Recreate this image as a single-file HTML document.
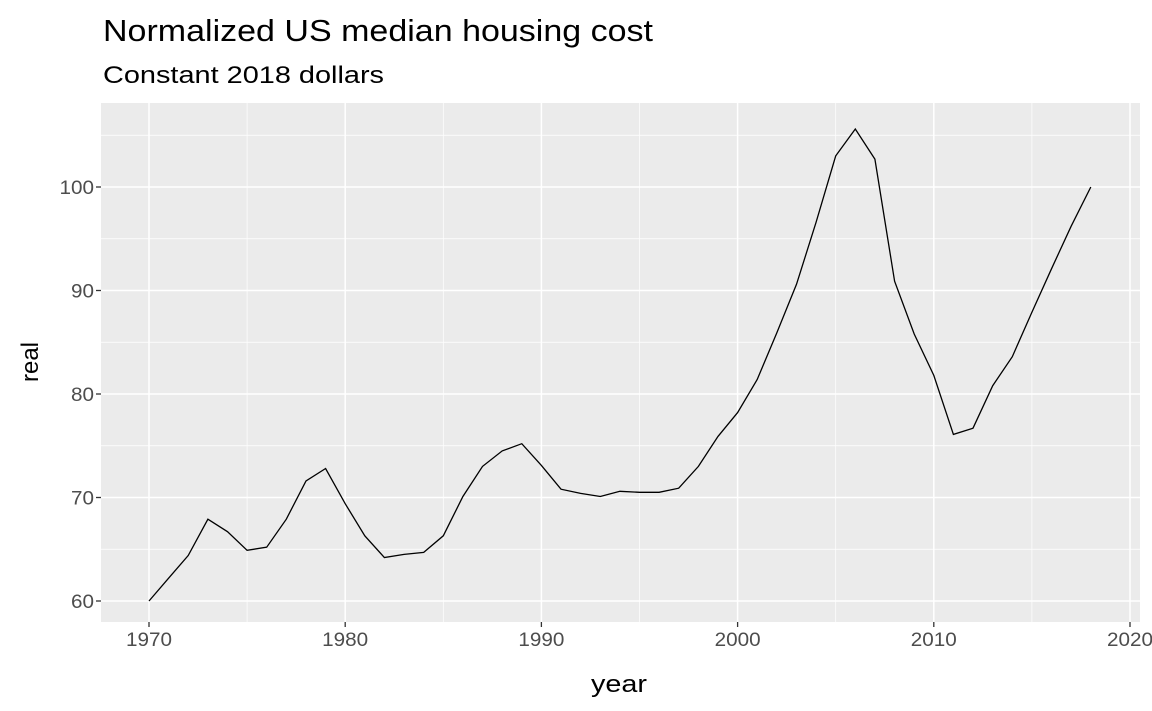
<!DOCTYPE html>
<html><head><meta charset="utf-8"><style>
body{margin:0;background:#fff;}
svg{display:block;font-family:"Liberation Sans",Arial,sans-serif;}
</style></head><body>
<svg id="chart" width="1152" height="711">
<text x="103" y="41" font-size="31" textLength="550" lengthAdjust="spacingAndGlyphs" fill="#000">Normalized US median housing cost</text>
<text x="103" y="83" font-size="24" textLength="281" lengthAdjust="spacingAndGlyphs" fill="#000">Constant 2018 dollars</text>
<rect x="101" y="103" width="1039" height="519" fill="#ebebeb"/>
<g id="grid"></g>
<g id="ticks"></g>
<text x="619" y="692" font-size="24" textLength="56" lengthAdjust="spacingAndGlyphs" text-anchor="middle" fill="#000">year</text>
<text transform="translate(38,362) rotate(-90)" font-size="24" textLength="40" lengthAdjust="spacingAndGlyphs" text-anchor="middle" fill="#000">real</text>
</svg>
<script>
const years=[1970,1971,1972,1973,1974,1975,1976,1977,1978,1979,1980,1981,1982,1983,1984,1985,1986,1987,1988,1989,1990,1991,1992,1993,1994,1995,1996,1997,1998,1999,2000,2001,2002,2003,2004,2005,2006,2007,2008,2009,2010,2011,2012,2013,2014,2015,2016,2017,2018];
const realValues=[60,62.2,64.4,67.9,66.7,64.9,65.2,67.9,71.6,72.8,69.4,66.3,64.2,64.5,64.7,66.3,70.1,73.0,74.5,75.2,73.1,70.8,70.4,70.1,70.6,70.5,70.5,70.9,73.0,75.9,78.2,81.4,85.9,90.6,96.6,103.0,105.6,102.7,90.9,85.8,81.8,76.1,76.7,80.8,83.6,87.9,92.1,96.2,100];
const xTicks=[1970,1980,1990,2000,2010,2020];
const yTicks=[60,70,80,90,100];
const xMinor=[1975,1985,1995,2005,2015];
const yMinor=[65,75,85,95,105];
const NS="http://www.w3.org/2000/svg";
const X=v=>149+(v-1970)*(1130-149)/50;
const Y=v=>601-(v-60)*(601-187)/40;
const L=101,R=1140,T=103,B=622;
const grid=document.getElementById('grid'),ticks=document.getElementById('ticks');
function mk(tag,a,p){const e=document.createElementNS(NS,tag);for(const k in a)e.setAttribute(k,a[k]);p.appendChild(e);return e;}
xMinor.forEach(v=>{const e=mk('line',{x1:X(v),x2:X(v),y1:T,y2:B,stroke:'#fff','stroke-width':0.7},grid);

});
yMinor.forEach(v=>{const e=mk('line',{x1:L,x2:R,y1:Y(v),y2:Y(v),stroke:'#fff','stroke-width':0.7},grid);

});
xTicks.forEach(v=>{const e=mk('line',{x1:X(v),x2:X(v),y1:T,y2:B,stroke:'#fff','stroke-width':1.5},grid);


const t=mk('line',{x1:X(v),x2:X(v),y1:B,y2:B+5,stroke:'#333','stroke-width':1.3},ticks);


const l=mk('text',{x:X(v),y:B+24,'font-size':19,textLength:46,lengthAdjust:'spacingAndGlyphs','text-anchor':'middle',fill:'#4d4d4d'},ticks);l.textContent=v;

});
yTicks.forEach(v=>{const e=mk('line',{x1:L,x2:R,y1:Y(v),y2:Y(v),stroke:'#fff','stroke-width':1.5},grid);


const t=mk('line',{x1:L-5,x2:L,y1:Y(v),y2:Y(v),stroke:'#333','stroke-width':1.3},ticks);


const s=String(v);
const l=mk('text',{x:L-7,y:Y(v)+7,'font-size':19,textLength:s.length*11.5,lengthAdjust:'spacingAndGlyphs','text-anchor':'end',fill:'#4d4d4d'},ticks);l.textContent=s;

});
const d=years.map((y,i)=>(i?'L':'M')+X(y).toFixed(1)+','+Y(realValues[i]).toFixed(1)).join(' ');
const p=mk('path',{d:d,fill:'none',stroke:'#000','stroke-width':1.3},document.getElementById('chart'));


</script>
</body></html>
